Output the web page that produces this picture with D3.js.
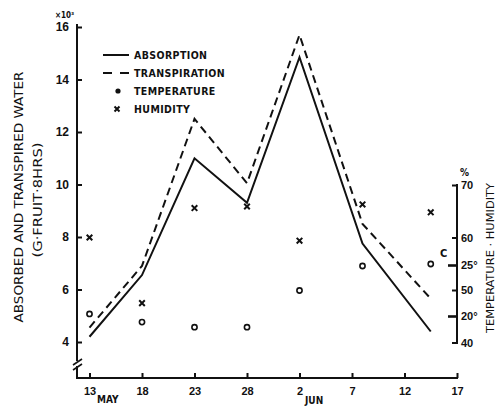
<!DOCTYPE html>
<html>
<head>
<meta charset="utf-8">
<script src="https://cdn.jsdelivr.net/npm/d3@7"></script>
<style>
  html, body { margin: 0; padding: 0; background: #fff; }
  svg { display: block; font-family: "DejaVu Sans Condensed", "DejaVu Sans", sans-serif; }
  .tick text { font-weight: bold; fill: #111; }
</style>
</head>
<body>
<div id="chart"></div>
<script>
// ---- Data (days counted from 13 May)
const days = [0, 5, 10, 15, 20, 26, 32.5];
const absorption = [4.2, 6.55, 11.0, 9.3, 14.85, 7.75, 4.4];
const transpiration = [4.55, 6.9, 12.5, 10.05, 15.7, 8.5, 5.65];
const temperature = [20.2, 19.4, 18.9, 18.9, 22.5, 24.9, 25.1];
const humidity = [60, 47.5, 65.6, 65.9, 59.4, 66.3, 64.8];

const xTicks = [0, 5, 10, 15, 20, 25, 30, 35];
const xTickLabels = ['13', '18', '23', '28', '2', '7', '12', '17'];
const leftTicks = [4, 6, 8, 10, 12, 14, 16];
const humTicks = [40, 50, 60, 70];
const tempTicks = [20, 25];
const legendItems = ['ABSORPTION', 'TRANSPIRATION', 'TEMPERATURE', 'HUMIDITY'];

const W = 497, H = 406;
const ink = '#111';

const svg = d3.select('#chart').append('svg')
    .attr('width', W).attr('height', H);

// ---- Scales
const x = d3.scaleLinear().domain([0, 35]).range([89.5, 457]);
const yLeft = d3.scaleLinear().domain([4, 16]).range([342, 27]);
const yHum = d3.scaleLinear().domain([40, 70]).range([342.5, 185]);
const yTemp = d3.scaleLinear().domain([20, 25]).range([316, 265]);

const axisX0 = 77, axisY0 = 378;

// ---- Axis lines
svg.append('line').attr('x1', axisX0).attr('x2', axisX0).attr('y1', 24).attr('y2', axisY0 + 1)
    .style('stroke', ink).style('stroke-width', 2);
svg.append('line').attr('x1', axisX0).attr('x2', 458).attr('y1', axisY0).attr('y2', axisY0)
    .style('stroke', ink).style('stroke-width', 2);
svg.append('line').attr('x1', 457).attr('x2', 457).attr('y1', 184).attr('y2', 344)
    .style('stroke', ink).style('stroke-width', 2);

// ---- Axis break on the left axis
svg.append('rect').attr('x', axisX0 - 3).attr('y', 361).attr('width', 6).attr('height', 5).style('fill', '#fff');
[0, 5].forEach((o) => {
    svg.append('line')
        .attr('x1', 73).attr('y1', 365 + o).attr('x2', 82).attr('y2', 359 + o)
        .style('stroke', ink).style('stroke-width', 1.6);
});

// ---- Left axis ticks
const gLeft = svg.append('g').attr('transform', `translate(${axisX0},0)`)
    .call(d3.axisLeft(yLeft).tickValues(leftTicks).tickSize(-5).tickPadding(8).tickFormat(d3.format('d')));
gLeft.select('.domain').remove();
gLeft.selectAll('.tick line').style('stroke', ink).style('stroke-width', 2);
gLeft.selectAll('.tick text').style('font-size', '12px');

// ---- Bottom axis ticks
const gBottom = svg.append('g').attr('transform', `translate(0,${axisY0})`)
    .call(d3.axisBottom(x).tickValues(xTicks).tickSize(-5).tickPadding(9).tickFormat((_d, i) => xTickLabels[i]));
gBottom.select('.domain').remove();
gBottom.selectAll('.tick line').style('stroke', ink).style('stroke-width', 2);
gBottom.selectAll('.tick text').style('font-size', '11px');

svg.append('text').attr('x', 97).attr('y', 403).style('font-size', '10px').style('font-weight', 'bold')
    .style('fill', ink).text('MAY');
svg.append('text').attr('x', 305).attr('y', 404).style('font-size', '10px').style('font-weight', 'bold')
    .style('fill', ink).text('JUN');

// ---- Right axes (humidity and temperature)
const gHum = svg.append('g').attr('transform', 'translate(457,0)')
    .call(d3.axisRight(yHum).tickValues(humTicks).tickSize(-5).tickPadding(4).tickFormat(d3.format('d')));
gHum.select('.domain').remove();
gHum.selectAll('.tick line').style('stroke', ink).style('stroke-width', 2);
gHum.selectAll('.tick text').style('font-size', '11px');

const gTemp = svg.append('g').attr('transform', 'translate(457,0)')
    .call(d3.axisRight(yTemp).tickValues(tempTicks).tickSize(-9).tickPadding(4).tickFormat((d) => `${d}°`));
gTemp.select('.domain').remove();
gTemp.selectAll('.tick line').style('stroke', ink).style('stroke-width', 2.6);
gTemp.selectAll('.tick text').style('font-size', '11px');

svg.append('text').attr('x', 460).attr('y', 176).style('font-size', '10px').style('font-weight', 'bold')
    .style('fill', ink).text('%');
svg.append('text').attr('x', 440).attr('y', 257).style('font-size', '11px').style('font-weight', 'bold')
    .style('fill', ink).text('C');

// ---- Axis titles
svg.append('text').attr('transform', 'translate(23,197) rotate(-90)')
    .attr('text-anchor', 'middle').attr('textLength', 251).attr('lengthAdjust', 'spacingAndGlyphs')
    .style('font-size', '12.5px').style('fill', ink).text('ABSORBED AND TRANSPIRED WATER');
svg.append('text').attr('transform', 'translate(42,200) rotate(-90)')
    .attr('text-anchor', 'middle').attr('textLength', 115).attr('lengthAdjust', 'spacingAndGlyphs')
    .style('font-size', '11.5px').style('fill', ink).text('(G·FRUIT·8HRS)');
svg.append('text').attr('transform', 'translate(494,258) rotate(-90)')
    .attr('text-anchor', 'middle').attr('textLength', 150).attr('lengthAdjust', 'spacingAndGlyphs')
    .style('font-size', '11px').style('fill', ink).text('TEMPERATURE · HUMIDITY');
svg.append('text').attr('x', 55).attr('y', 18).style('font-size', '8px').style('font-weight', 'bold')
    .style('fill', ink).text('×10³');

// ---- Lines
const line = d3.line().x((d) => x(d[0])).y((d) => yLeft(d[1]));
svg.append('path').datum(days.map((d, i) => [d, absorption[i]]))
    .attr('d', line).style('fill', 'none').style('stroke', ink).style('stroke-width', 2);
svg.append('path').datum(days.map((d, i) => [d, transpiration[i]]))
    .attr('d', line).style('fill', 'none').style('stroke', ink).style('stroke-width', 2)
    .style('stroke-dasharray', '8,5');

// ---- Temperature circles
svg.selectAll('.temp').data(days).join('circle').attr('class', 'temp')
    .attr('cx', (d) => x(d)).attr('cy', (_d, i) => yTemp(temperature[i])).attr('r', 2.6)
    .style('fill', 'none').style('stroke', ink).style('stroke-width', 1.6);

// ---- Humidity crosses
const cross = (g, cx, cy, s) => {
    g.append('path')
        .attr('d', `M${cx - s},${cy - s}L${cx + s},${cy + s}M${cx - s},${cy + s}L${cx + s},${cy - s}`)
        .style('stroke', ink).style('stroke-width', 2);
};
days.forEach((d, i) => cross(svg, x(d), yHum(humidity[i]), 2.8));

// ---- Legend
const legend = svg.append('g');
const ly = [55, 73, 91, 109];
legendItems.forEach((t, i) => {
    legend.append('text').attr('x', 134).attr('y', ly[i] + 4)
        .style('font-size', '10.5px').style('font-weight', 'bold').style('fill', ink)
        .style('letter-spacing', '0.4px').text(t);
});
legend.append('line').attr('x1', 103).attr('x2', 129).attr('y1', ly[0]).attr('y2', ly[0])
    .style('stroke', ink).style('stroke-width', 2);
legend.append('line').attr('x1', 103).attr('x2', 129).attr('y1', ly[1]).attr('y2', ly[1])
    .style('stroke', ink).style('stroke-width', 2).style('stroke-dasharray', '9,8');
legend.append('circle').attr('cx', 118).attr('cy', ly[2]).attr('r', 2.6).style('fill', ink);
cross(legend, 117, ly[3], 2.5);
</script>
</body>
</html>
